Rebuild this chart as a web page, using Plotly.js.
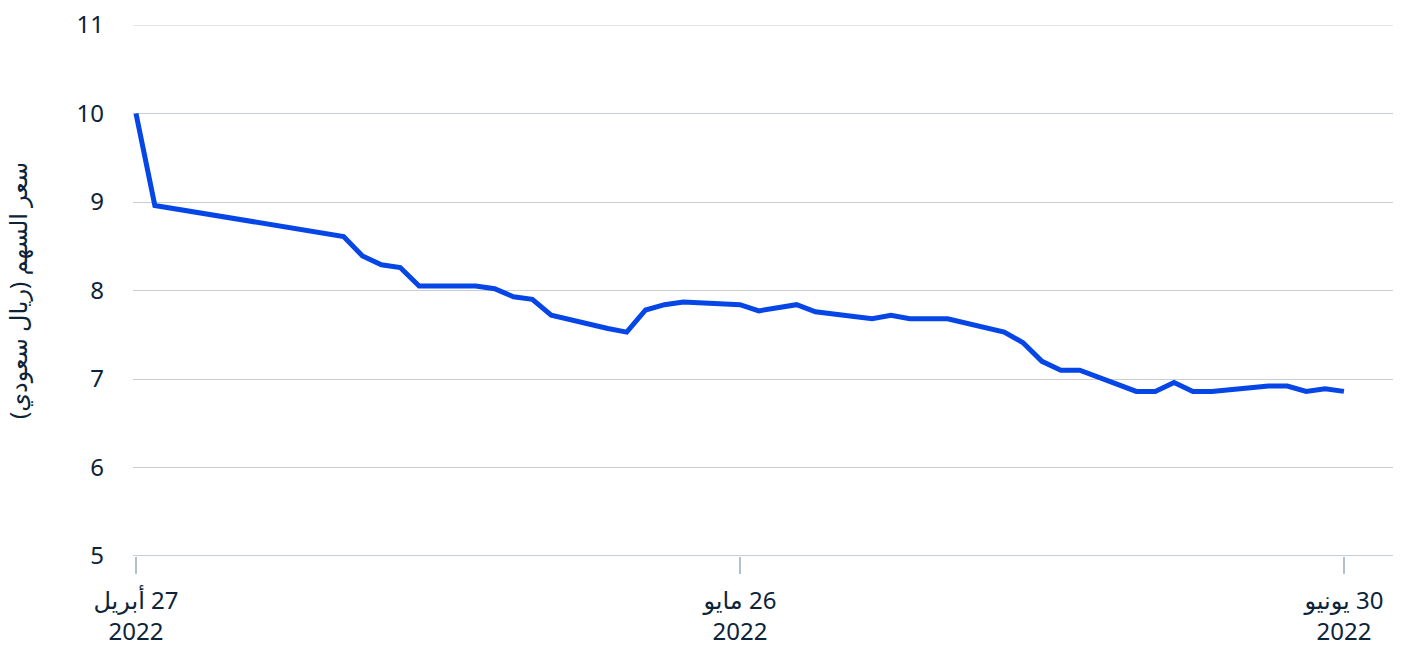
<!DOCTYPE html>
<html>
<head>
<meta charset="utf-8">
<script src="https://cdn.plot.ly/plotly-3.0.1.min.js"></script>
<style>html,body{margin:0;padding:0;background:#fff;}#chart{width:1413px;height:646px;}</style>
</head>
<body>
<div id="chart"></div>
<script>
const dates = ['2022-04-27','2022-04-28','2022-05-08','2022-05-09','2022-05-10','2022-05-11','2022-05-12',
  '2022-05-15','2022-05-16','2022-05-17','2022-05-18','2022-05-19','2022-05-22','2022-05-23','2022-05-24',
  '2022-05-25','2022-05-26','2022-05-29','2022-05-30','2022-06-01','2022-06-02','2022-06-05','2022-06-06',
  '2022-06-07','2022-06-09','2022-06-12','2022-06-13','2022-06-14','2022-06-15','2022-06-16','2022-06-19',
  '2022-06-20','2022-06-21','2022-06-22','2022-06-23','2022-06-26','2022-06-27','2022-06-28','2022-06-29','2022-06-30'];
const prices = [10.00,8.96,8.61,8.39,8.29,8.26,8.05,
  8.05,8.02,7.93,7.90,7.72,7.57,7.53,7.78,
  7.84,7.87,7.84,7.77,7.84,7.76,7.68,7.72,
  7.68,7.68,7.53,7.41,7.20,7.10,7.10,6.86,
  6.86,6.96,6.86,6.86,6.92,6.92,6.86,6.89,6.86];
const tickDates = ['2022-04-27','2022-05-29','2022-06-30'];
const tickLabels = ['\u200F27 أبريل<br>2022','\u200F26 مايو<br>2022','\u200F30 يونيو<br>2022'];
const yTicks = [5,6,7,8,9,10,11];
const yTitle = '\u200Fسعر السهم (ريال سعودي)\u200F';

const fontFam = 'Noto Sans, DejaVu Sans, sans-serif';
const textCol = '#0c2339';

Plotly.newPlot('chart', [{
  x: dates, y: prices, type: 'scatter', mode: 'lines',
  line: {color: '#0646e6', width: 5},
  hoverinfo: 'x+y'
}], {
  width: 1413, height: 646,
  margin: {l: 133, r: 20, t: 25, b: 90},
  paper_bgcolor: '#fff', plot_bgcolor: '#fff',
  showlegend: false,
  font: {family: fontFam, color: textCol, size: 24},
  xaxis: {
    type: 'date',
    range: ['2022-04-26 20:12', '2022-07-02 14:24'],
    tickvals: tickDates, ticktext: tickLabels,
    ticks: 'outside', ticklen: 17, tickwidth: 1.5, tickcolor: '#b4c0ca',
    showgrid: false, zeroline: false,
    showline: false,
    ticklabelstandoff: 6,
    tickfont: {family: fontFam, size: 24, color: textCol}
  },
  yaxis: {
    range: [5, 11], tickvals: yTicks,
    showgrid: true, gridcolor: '#c8cdd2', gridwidth: 1,
    zeroline: false, showline: false, ticks: '',
    ticklabelstandoff: 28,
    tickfont: {family: fontFam, size: 24, color: textCol},
    title: {text: yTitle, standoff: 42, font: {family: fontFam, size: 24, color: textCol}}
  },
  shapes: [
    {type: 'line', xref: 'paper', yref: 'y', x0: 0, x1: 1, y0: 5, y1: 5,
     line: {color: '#b4c0ca', width: 1.5}},
    {type: 'line', xref: 'paper', yref: 'y', x0: 0, x1: 1, y0: 11, y1: 11,
     line: {color: '#c8cdd2', width: 1}}
  ]
}, {displayModeBar: false, staticPlot: true});
</script>
</body>
</html>
